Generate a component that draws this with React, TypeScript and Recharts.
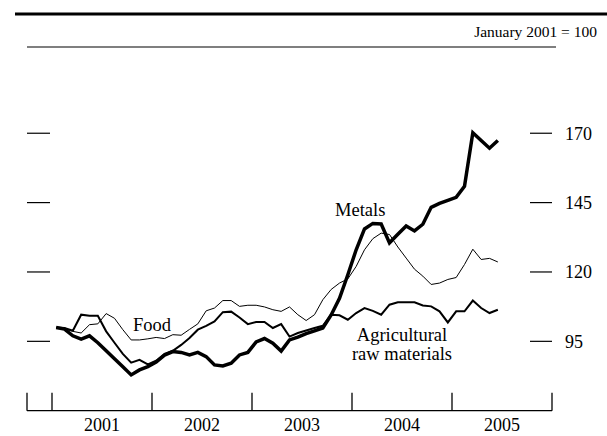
import React from 'react';
import { LineChart, Line, XAxis, YAxis } from 'recharts';

// Monthly index, January 2001 = 100 (Jan 2001 .. Jun 2005)
const startYear = 2001;
const metals = [
  100, 99.4, 97, 95.8, 97, 94.5, 91.6, 88.7, 85.8, 82.9, 84.7, 85.9,
  87.5, 90, 91.3, 91, 90.1, 91, 89.5, 86.5, 86.1, 87.1, 90.1, 91,
  94.8, 96, 94.3, 91.5, 95.5, 96.5, 97.8, 98.8, 99.8, 104.5, 110.5, 119,
  128, 135.5, 137.5, 137.3, 130.5, 133.6, 136.6, 134.8, 137.2, 143.3, 144.7, 145.8,
  146.9, 150.9, 170.2, 167.4, 164.6, 167.4,
];
const agri = [
  100, 99.8, 98.8, 104.6, 104.2, 104.2, 98.6, 94.5, 90.5, 87.3, 88.3, 86.7,
  88, 90.5, 91.6, 93.7, 96.2, 99.2, 100.6, 102.2, 105.5, 105.7, 103.6, 101.2,
  102, 102, 99.8, 101.2, 96.7, 98, 98.9, 99.8, 100.6, 104.6, 104.4, 102.8,
  105.2, 107, 106, 104.6, 108.2, 109.1, 109.1, 109.1, 107.9, 107.6, 105.8, 101.8,
  105.8, 105.8, 109.7, 107, 105.2, 106.4,
];
const food = [
  100, 99.5, 98.6, 98, 101, 101.3, 105, 103.3, 99.2, 95.5, 95.5, 95.9,
  96.4, 96, 97.4, 97.2, 99.3, 101.3, 106, 107, 109.7, 109.7, 107.6, 108,
  108, 107.4, 106.4, 105.8, 107.4, 104.6, 102.5, 104.6, 110, 113.7, 116, 117.5,
  122, 128, 132, 134, 133.5, 129, 125, 121, 118.5, 115.5, 116, 117.3,
  118, 122.7, 128.2, 124.5, 124.9, 123.6,
];

const yearLabels = ['2001', '2002', '2003', '2004', '2005'];
const yearLabelPositions = [0.5, 1.5, 2.5, 3.5, 4.5];
const xTickMarks = [-0.25, 0, 1, 2, 3, 4, 5];
const yTicks = [95, 120, 145, 170];
const xDomain: [number, number] = [-0.25, 5];
const yDomain: [number, number] = [70, 200];

const data = metals.map((m, i) => ({
  t: (i + 0.5) / 12,
  month: `${startYear + Math.floor(i / 12)}-${String((i % 12) + 1).padStart(2, '0')}`,
  metals: m,
  agri: agri[i],
  food: food[i],
}));

const FONT = "'Liberation Serif', 'Times New Roman', Times, serif";
const blank = () => '';

export default function App() {
  return (
    <div style={{ position: 'absolute', left: 0, top: 0, width: 607, height: 436, background: '#fff' }}>
      <LineChart
        width={607}
        height={436}
        data={data}
        margin={{ top: 50, right: 0, bottom: 0, left: 26 }}
      >
        <XAxis
          xAxisId="b"
          dataKey="t"
          type="number"
          domain={xDomain}
          allowDataOverflow
          ticks={yearLabelPositions}
          interval={0}
          tickFormatter={(v: number) => yearLabels[yearLabelPositions.indexOf(v)] ?? ''}
          tickSize={0}
          tickMargin={7}
          height={24.3}
          axisLine={false}
          tickLine={false}
          tick={{ fill: '#000', fontSize: 18, fontFamily: FONT }}
        />
        <XAxis
          xAxisId="a"
          dataKey="t"
          type="number"
          domain={xDomain}
          allowDataOverflow
          ticks={xTickMarks}
          interval={0}
          tickFormatter={blank}
          tickSize={-18}
          height={1}
          axisLine={{ stroke: '#000', strokeWidth: 1.3 }}
          tickLine={{ stroke: '#000', strokeWidth: 1.3 }}
        />
        <YAxis
          yAxisId="left"
          orientation="left"
          type="number"
          domain={yDomain}
          allowDataOverflow
          ticks={yTicks}
          interval={0}
          width={1}
          tickFormatter={blank}
          tickSize={-23}
          axisLine={false}
          tickLine={{ stroke: '#000', strokeWidth: 1.2 }}
        />
        <YAxis
          yAxisId="right"
          orientation="right"
          type="number"
          domain={yDomain}
          allowDataOverflow
          ticks={yTicks}
          interval={0}
          width={55}
          tickSize={-22}
          tickMargin={35}
          axisLine={false}
          tickLine={{ stroke: '#000', strokeWidth: 1.2 }}
          tick={{ fill: '#000', fontSize: 18, fontFamily: FONT }}
        />
        <Line
          xAxisId="b"
          yAxisId="left"
          dataKey="food"
          stroke="#000"
          strokeWidth={1}
          dot={false}
          activeDot={false}
          isAnimationActive={false}
        />
        <Line
          xAxisId="a"
          yAxisId="left"
          dataKey="agri"
          stroke="#000"
          strokeWidth={2}
          dot={false}
          activeDot={false}
          isAnimationActive={false}
        />
        <Line
          xAxisId="a"
          yAxisId="right"
          dataKey="metals"
          stroke="#000"
          strokeWidth={3.5}
          dot={false}
          activeDot={false}
          isAnimationActive={false}
        />
      </LineChart>
      <svg
        width={607}
        height={436}
        style={{ position: 'absolute', left: 0, top: 0, pointerEvents: 'none' }}
        fontFamily={FONT}
      >
        <line x1={15} y1={14} x2={607} y2={14} stroke="#000" strokeWidth={3} />
        <text x={597} y={37} textAnchor="end" fontSize={15.5} fill="#000">January 2001 = 100</text>
        <line x1={27} y1={47} x2={556} y2={47} stroke="#000" strokeWidth={1.2} />
        <text x={133} y={331} fontSize={18.5} fill="#000">Food</text>
        <text x={335} y={216} fontSize={18.5} fill="#000">Metals</text>
        <text x={402} y={341} fontSize={18.5} fill="#000" textAnchor="middle">Agricultural</text>
        <text x={402} y={360} fontSize={18.5} fill="#000" textAnchor="middle">raw materials</text>
      </svg>
    </div>
  );
}
